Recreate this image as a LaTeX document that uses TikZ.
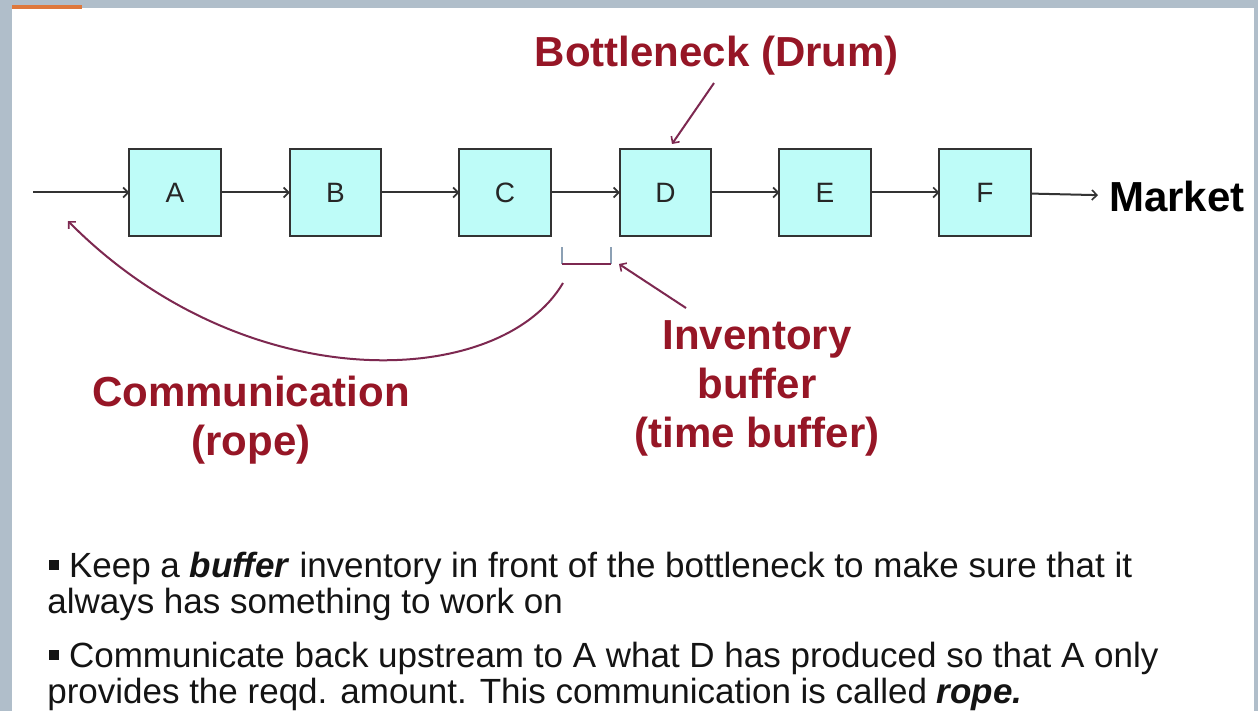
\documentclass[tikz,border=0pt]{standalone}
\usepackage{fontspec}
\setmainfont{Liberation Sans}
\usepackage{xcolor}
\usepackage{tikz}
\usetikzlibrary{arrows.meta}
\usetikzlibrary{positioning}

\definecolor{boxfill}{RGB}{190,252,248}
\definecolor{labelred}{RGB}{150,22,38}
\definecolor{pointer}{RGB}{125,40,80}
\definecolor{framegray}{RGB}{176,190,202}
\definecolor{tabline}{RGB}{222,120,60}
\definecolor{bracketgray}{RGB}{140,160,180}
\newcommand{\sqbullet}{\hspace*{2pt}\rule[7pt]{10pt}{10pt}}

\begin{document}
\begin{tikzpicture}[x=1pt,y=-1pt,node distance=69pt, semithick]
  \tikzstyle{station}=[draw=black!80, fill=boxfill, line width=2.2pt, minimum width=91.5pt, minimum height=87pt, inner sep=0pt, outer sep=0pt, font=\fontsize{28}{28}\selectfont, text=black!85]
  \tikzstyle{flow}=[draw=black!80, line width=2pt, -{Straight Barb[length=5pt,width=10pt,line width=1.6pt]}]
  \tikzstyle{pointto}=[draw=pointer, line width=2pt, -{Straight Barb[length=5pt,width=10pt,line width=1.6pt]}]
  \tikzstyle{note}=[text=labelred, font=\fontsize{42}{49}\selectfont\bfseries, align=center, inner sep=0pt]
  \tikzstyle{body}=[text=black!92, font=\fontsize{35}{36}\selectfont, align=left, inner sep=0pt]

  % slide frame
  \fill[framegray] (0,0) rectangle (1258,711);
  \fill[white] (12,8) rectangle (1254,711);
  \fill[tabline] (12,5) rectangle (82,9);
  \useasboundingbox (0,0) rectangle (1258,711);

  % production line
  \node[station] (A) at (175,192.5) {A};
  \node[station] (B) [right=69pt of A] {B};
  \node[station] (C) [right=78pt of B] {C};
  \node[station] (D) [right=69pt of C] {D};
  \node[station] (E) [right=68pt of D] {E};
  \node[station] (F) [right=68.5pt of E] {F};
  \node[font=\fontsize{42}{42}\selectfont\bfseries, anchor=base west, inner sep=0pt, inner xsep=11pt] (market) at (1098,212) {Market};
  \coordinate (in) at (33,192.5);

  \draw[flow] (in) -- (A);
  \draw[flow] (A) -- (B);
  \draw[flow] (B) -- (C);
  \draw[flow] (C) -- (D);
  \draw[flow] (D) -- (E);
  \draw[flow] (E) -- (F);
  \draw[flow] (F) -- (market);

  % drum
  \node[note, anchor=base] (drum) at (717,67) {Bottleneck (Drum)};
  \draw[pointto] ([shift={(-3pt,-7pt)}]drum.south) -- ([shift={(6.5pt,5pt)}]D.north);

  % buffer
  \coordinate (bufL) at (562,264);
  \coordinate (bufR) at (611,264);
  \draw[bracketgray, line width=1.4pt] (bufL) -- ++(0,-17);
  \draw[bracketgray, line width=1.4pt] (bufR) -- ++(0,-17);
  \draw[pointer, line width=2.2pt] (bufL) -- (bufR);
  \node[note, anchor=base] (invbuf) at (757,447) {Inventory\\buffer\\(time buffer)};
  \coordinate (invtail) at (686,308);
  \draw[pointto] (invtail) -- ([xshift=8pt]bufR);

  % rope
  \node[note, anchor=base] (ropenote) at (251,455) {Communication\\(rope)};
  \coordinate (ropestart) at (563,283);
  \coordinate (ropeend) at (68,221);
  \draw[pointto] (ropestart) .. controls (500,390) and (245,400) .. (ropeend);

  % notes
  \node[body, anchor=base west] (first) at (47,613) {\sqbullet\ Keep a \textbf{\textit{buffer}} inventory in front of the bottleneck to make sure that it\\always has something to work on};
  \node[body, anchor=base west] (second) at (47,703) {\sqbullet\ Communicate back upstream to A what D has produced so that A only\\provides the reqd. amount. This communication is called \textbf{\textit{rope.}}};
\end{tikzpicture}
\end{document}
